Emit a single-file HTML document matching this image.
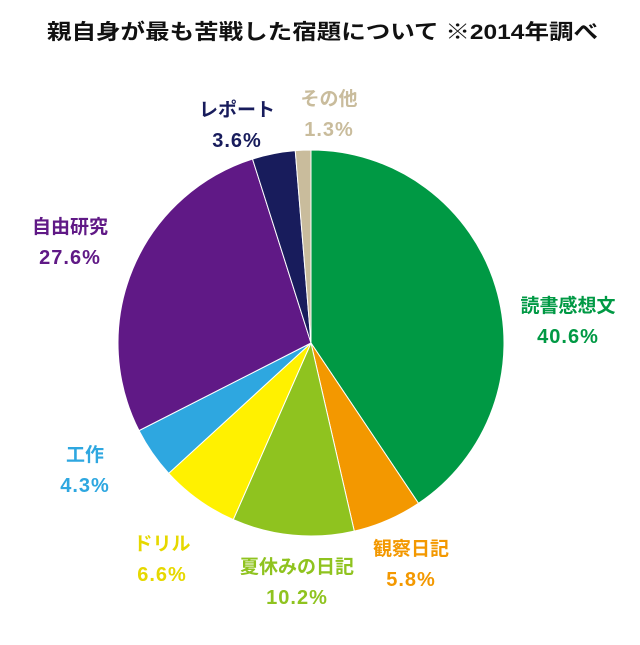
<!DOCTYPE html>
<html><head><meta charset="utf-8"><style>
body{margin:0;background:#fff}
svg text{font-family:"Liberation Sans","Noto Sans CJK JP",sans-serif;font-weight:bold}
</style></head><body>
<svg id="chart" width="640" height="640" viewBox="0 0 640 640">
<rect width="640" height="640" fill="#fff"/>
<text x="47" y="39" textLength="551" lengthAdjust="spacingAndGlyphs" font-size="21" fill="#111">親自身が最も苦戦した宿題について ※2014年調べ</text>
<g id="slices"></g><g id="labels"></g>
</svg>
<script>
const categories=["読書感想文","観察日記","夏休みの日記","ドリル","工作","自由研究","レポート","その他"];
const values=[40.6,5.8,10.2,6.6,4.3,27.6,3.6,1.3];
const colors=["#009944","#f39800","#8fc31f","#fff100","#2ea7e0","#601986","#181c5c","#c9bc9c"];
const labelPos=[[568,305],[411,548],[297,566],[162,543],[85,454],[70,226],[237,109],[329,98]];
const cx=311,cy=343,r=193;
const ns="http://www.w3.org/2000/svg";
const total=values.reduce((a,b)=>a+b,0);
let a0=0;
const gS=document.getElementById("slices"),gL=document.getElementById("labels");
values.forEach((v,i)=>{
  const a1=a0+v/total*2*Math.PI;
  const x0=cx+r*Math.sin(a0),y0=cy-r*Math.cos(a0),x1=cx+r*Math.sin(a1),y1=cy-r*Math.cos(a1);
  const p=document.createElementNS(ns,"path");
  p.setAttribute("d",`M${cx},${cy}L${x0},${y0}A${r},${r} 0 ${a1-a0>Math.PI?1:0} 1 ${x1},${y1}Z`);
  p.setAttribute("fill",colors[i]);p.setAttribute("stroke","#fff");p.setAttribute("stroke-width","1");
  
  
  gS.appendChild(p);
  const [lx,ly]=labelPos[i];
  const fill=colors[i]==="#fff100"?"#e6d800":colors[i];
  const t=document.createElementNS(ns,"text");
  t.setAttribute("x",lx);t.setAttribute("y",ly+7);t.setAttribute("text-anchor","middle");t.setAttribute("font-size","19");t.setAttribute("fill",fill);
  t.textContent=categories[i];
  
  
  gL.appendChild(t);
  const t2=document.createElementNS(ns,"text");
  t2.setAttribute("x",lx);t2.setAttribute("y",ly+38);t2.setAttribute("text-anchor","middle");t2.setAttribute("font-size","20");t2.setAttribute("letter-spacing","1");t2.setAttribute("fill",fill);
  t2.textContent=v.toFixed(1)+"%";
  
  
  gL.appendChild(t2);
  a0=a1;
});
</script>
</body></html>
